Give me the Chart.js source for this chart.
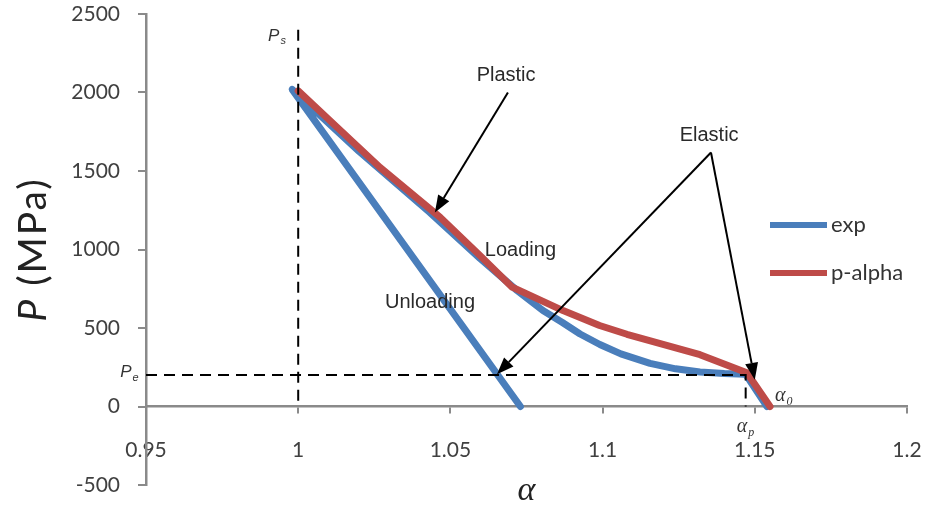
<!DOCTYPE html>
<html>
<head>
<meta charset="utf-8">
<script src="https://cdn.jsdelivr.net/npm/chart.js@4"></script>
<style>
  html, body { margin: 0; padding: 0; background: #fff; }
  #wrap { width: 925px; height: 508px; }
</style>
</head>
<body>
<div id="wrap"><canvas id="pAlphaChart" width="925" height="508"></canvas></div>
<script>
// measured curve: loading from alpha0 up to Ps, then unloading
const expAlpha = [1.154, 1.147, 1.140, 1.132, 1.124, 1.1156, 1.106, 1.0991, 1.0926, 1.0868, 1.0804, 1.0719, 1.0597, 1.0433, 1.02, 0.998, 1.073];
const expP     = [0,     205,   210,   220,   240,   275,    335,   395,    462,    535,    611,    739,    943,    1235,   1625, 2020,  0];

// p-alpha model loading curve
const modelAlpha = [1.0,  1.0104, 1.0269, 1.0466, 1.0597, 1.0703, 1.087, 1.099, 1.108, 1.132, 1.1474, 1.155];
const modelP     = [2010, 1822,   1522,   1205,   962,    760,    611,   516,   460,   330,   215,    0];

const xTicks = [0.95, 1, 1.05, 1.1, 1.15, 1.2];
const yTicks = [-500, 0, 500, 1000, 1500, 2000, 2500];

// reference levels for the dashed guides
const alphaS = 1.0;
const alphaP = 1.147;
const pTop = 2400;
const pE = 200;

// annotation arrows: [fromAlpha, fromP, toAlpha, toP]
const arrows = [
  [1.0689, 2000, 1.0449, 1236],
  [1.1356, 1618, 1.0653, 205],
  [1.1356, 1618, 1.1500, 170]
];
// annotation words: [text, alpha, P]
const words = [
  ['Plastic', 1.0683, 2108],
  ['Elastic', 1.1350, 1725],
  ['Loading', 1.0730, 995],
  ['Unloading', 1.0433, 660]
];

function toPoints(xs, ys) {
  return xs.map((x, i) => ({ x: x, y: ys[i] }));
}

function drawArrow(ctx, x1, y1, x2, y2) {
  const ang = Math.atan2(y2 - y1, x2 - x1);
  const len = 17, half = 6.5;
  const bx = x2 - len * Math.cos(ang), by = y2 - len * Math.sin(ang);
  ctx.beginPath();
  ctx.moveTo(x1, y1);
  ctx.lineTo(bx, by);
  ctx.stroke();
  ctx.beginPath();
  ctx.moveTo(x2, y2);
  ctx.lineTo(bx + half * Math.sin(ang), by - half * Math.cos(ang));
  ctx.lineTo(bx - half * Math.sin(ang), by + half * Math.cos(ang));
  ctx.closePath();
  ctx.fill();
}

// italic symbol with a small subscript, left aligned on the baseline
function drawSub(ctx, main, sub, x, y, size, family) {
  ctx.textAlign = 'left';
  ctx.textBaseline = 'alphabetic';
  ctx.font = 'italic ' + size + 'px ' + family;
  ctx.fillText(main, x, y);
  const w = ctx.measureText(main).width;
  ctx.font = 'italic ' + Math.round(size * 0.62) + 'px ' + family;
  ctx.fillText(sub, x + w + 1, y + size * 0.2);
}

const notes = {
  id: 'notes',
  afterDatasetsDraw(chart) {
    const { ctx, chartArea, scales: { x, y } } = chart;
    const px = v => x.getPixelForValue(v);
    const py = v => y.getPixelForValue(v);
    ctx.save();

    ctx.strokeStyle = '#000';
    ctx.fillStyle = '#000';
    ctx.lineWidth = 2;
    arrows.forEach(a => drawArrow(ctx, px(a[0]), py(a[1]), px(a[2]), py(a[3])));

    ctx.fillStyle = '#2a2a2a';
    ctx.font = '20px "Liberation Sans"';
    ctx.textAlign = 'center';
    ctx.textBaseline = 'middle';
    words.forEach(w => ctx.fillText(w[0], px(w[1]), py(w[2])));

    // symbol labels on the guides
    ctx.fillStyle = '#333';
    drawSub(ctx, 'P', 's', px(0.9901), py(2331), 17, '"Liberation Sans"');
    drawSub(ctx, 'P', 'e', px(0.9415), py(185), 17, '"Liberation Sans"');
    drawSub(ctx, 'α', '0', px(1.1566), py(38), 20, '"Liberation Serif"');
    drawSub(ctx, 'α', 'p', px(1.1441), py(-160), 20, '"Liberation Serif"');

    // axis titles
    ctx.fillStyle = '#222';
    ctx.font = 'italic 34px "Liberation Serif"';
    ctx.textAlign = 'center';
    ctx.textBaseline = 'middle';
    ctx.fillText('α', (chartArea.left + chartArea.right) / 2, chartArea.bottom + 6);

    ctx.translate(33, py(1000));
    ctx.rotate(-Math.PI / 2);
    ctx.letterSpacing = '2px';
    ctx.font = 'italic 39px Lato';
    const wP = ctx.measureText('P').width;
    ctx.font = '39px Lato';
    const wRest = ctx.measureText(' (MPa)').width;
    const sx = -(wP + wRest) / 2;
    ctx.textAlign = 'left';
    ctx.font = 'italic 39px Lato';
    ctx.fillText('P', sx, 0);
    ctx.font = '39px Lato';
    ctx.fillText(' (MPa)', sx + wP, 0);
    ctx.letterSpacing = '0px';
    ctx.setTransform(1, 0, 0, 1, 0, 0);

    // legend for the two curves
    ctx.font = '22px Lato';
    ctx.textAlign = 'left';
    ctx.textBaseline = 'middle';
    chart.data.datasets.slice(0, 2).forEach((ds, i) => {
      const ly = 225 + i * 48;
      const lx = chartArea.right - 137;
      ctx.strokeStyle = ds.borderColor;
      ctx.lineWidth = 6;
      ctx.beginPath();
      ctx.moveTo(lx, ly);
      ctx.lineTo(lx + 57, ly);
      ctx.stroke();
      ctx.fillStyle = '#333';
      ctx.fillText(ds.label, lx + 61, ly);
    });
    ctx.restore();
  }
};

const axisGrey = '#8a8a8a';
const tickFont = { family: 'Lato', size: 21 };

function noScalePadding(scale) {
  scale.paddingLeft = 0;
  scale.paddingRight = 0;
  scale.paddingTop = 0;
  scale.paddingBottom = 0;
}

new Chart(document.getElementById('pAlphaChart'), {
  type: 'scatter',
  data: {
    datasets: [
      {
        label: 'exp',
        data: toPoints(expAlpha, expP),
        showLine: true,
        borderColor: '#4A7EBB',
        borderWidth: 7,
        borderCapStyle: 'round',
        borderJoinStyle: 'round',
        pointRadius: 0,
        order: 3
      },
      {
        label: 'p-alpha',
        data: toPoints(modelAlpha, modelP),
        showLine: true,
        borderColor: '#BE4B48',
        borderWidth: 7,
        borderCapStyle: 'round',
        borderJoinStyle: 'round',
        pointRadius: 0,
        order: 2
      },
      {
        label: 'Ps',
        data: [{ x: alphaS, y: pTop }, { x: alphaS, y: 0 }],
        showLine: true,
        borderColor: '#000',
        borderWidth: 2,
        borderDash: [11, 7],
        pointRadius: 0,
        order: 1
      },
      {
        label: 'Pe',
        data: [{ x: xTicks[0], y: pE }, { x: alphaP, y: pE }, { x: alphaP, y: 0 }],
        showLine: true,
        borderColor: '#000',
        borderWidth: 2,
        borderDash: [11, 7],
        pointRadius: 0,
        order: 1
      }
    ]
  },
  options: {
    responsive: false,
    animation: false,
    layout: { autoPadding: false, padding: { left: 0, top: 14, right: 18, bottom: 23 } },
    plugins: {
      legend: { display: false },
      tooltip: { enabled: false }
    },
    scales: {
      x: {
        type: 'linear',
        position: { y: 0 },
        min: xTicks[0],
        max: xTicks[xTicks.length - 1],
        afterBuildTicks: scale => { scale.ticks = xTicks.map(v => ({ value: v })); },
        afterFit: noScalePadding,
        ticks: {
          font: tickFont,
          color: '#404040',
          padding: 25,
          maxRotation: 0,
          callback: v => String(v)
        },
        grid: { drawOnChartArea: false, drawTicks: true, tickLength: 6, color: axisGrey, lineWidth: 2 },
        border: { color: axisGrey, width: 2.5 }
      },
      y: {
        type: 'linear',
        min: yTicks[0],
        max: yTicks[yTicks.length - 1],
        afterBuildTicks: scale => { scale.ticks = yTicks.map(v => ({ value: v })); },
        afterFit: scale => { noScalePadding(scale); scale.width = 146; },
        ticks: {
          font: tickFont,
          color: '#404040',
          padding: 18,
          callback: v => String(v)
        },
        grid: { drawOnChartArea: false, drawTicks: true, tickLength: 8, color: axisGrey, lineWidth: 2 },
        border: { color: axisGrey, width: 2.5 }
      }
    }
  },
  plugins: [notes]
});
</script>
</body>
</html>
